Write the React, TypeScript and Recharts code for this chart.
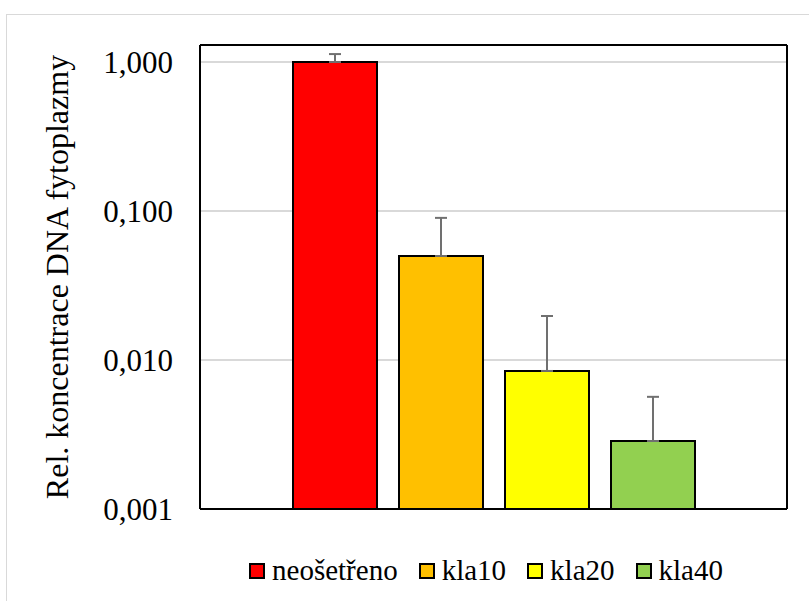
import { BarChart, Bar, XAxis, YAxis, CartesianGrid, ErrorBar, Legend } from "recharts";

const seriesNames = ["neošetřeno", "kla10", "kla20", "kla40"];
const seriesValues = [1.0, 0.0499, 0.00844, 0.00286];
const seriesErrors = [0.13, 0.04, 0.0113, 0.0028];
const seriesColors = ["#ff0000", "#ffc000", "#ffff00", "#92d050"];
const yTicks = [0.001, 0.01, 0.1, 1];

const row: Record<string, any> = { name: "" };
seriesNames.forEach((n, i) => {
  row[n] = seriesValues[i];
  row[n + "_err"] = [0, seriesErrors[i]];
});
const data = [row];

const font = "'Times New Roman', 'Liberation Serif', 'DejaVu Serif', serif";

const fmt = (v: number) => v.toFixed(3).replace(".", ",");

function LegendContent() {
  return (
    <div
      style={{
        display: "flex",
        justifyContent: "center",
        fontFamily: font,
        fontSize: 29,
        color: "#000",
        paddingLeft: 184,
        marginTop: -14,
      }}
    >
      {seriesNames.map((n, i) => (
        <span
          key={n}
          style={{ display: "inline-flex", alignItems: "center", marginRight: i < seriesNames.length - 1 ? 21 : 0 }}
        >
          <svg width={16} height={16} style={{ marginRight: 7 }}>
            <rect x={1} y={1} width={14} height={14} fill={seriesColors[i]} stroke="#000" strokeWidth={2} />
          </svg>
          {n}
        </span>
      ))}
    </div>
  );
}

export default function App() {
  return (
    <div
      style={{
        position: "absolute",
        left: 6,
        top: 14,
        width: 803,
        height: 587,
        border: "1px solid #d9d9d9",
        borderRight: "none",
        borderBottom: "none",
        boxSizing: "border-box",
        fontFamily: font,
      }}
    >
      <div style={{ position: "absolute", left: -7, top: -15 }}>
        <BarChart
          width={809}
          height={601}
          data={data}
          margin={{ top: 44, right: 21, bottom: 0, left: 0 }}
          barSize={84}
          barGap={22}
          style={{ fontFamily: font }}
        >
          <CartesianGrid vertical={false} stroke="#d9d9d9" strokeWidth={2} />
          <XAxis
            dataKey="name"
            tick={false}
            tickLine={false}
            height={59}
            axisLine={{ stroke: "#000", strokeWidth: 2 }}
          />
          <XAxis
            xAxisId="top"
            orientation="top"
            dataKey="name"
            tick={false}
            tickLine={false}
            height={1}
            axisLine={{ stroke: "#000", strokeWidth: 2 }}
          />
          <YAxis
            scale="log"
            domain={[0.001, 1.3]}
            ticks={yTicks}
            allowDataOverflow
            width={200}
            tickFormatter={fmt}
            tickLine={false}
            tickSize={0}
            tickMargin={27}
            axisLine={{ stroke: "#000", strokeWidth: 2 }}
            tick={{ fill: "#000", fontSize: 31, fontFamily: font }}
            label={{
              value: "Rel. koncentrace DNA fytoplazmy",
              angle: -90,
              position: "insideLeft",
              offset: 57,
              style: { textAnchor: "middle", fill: "#000", fontSize: 32, fontFamily: font },
            }}
          />
          <YAxis
            yAxisId="right"
            orientation="right"
            scale="log"
            domain={[0.001, 1.3]}
            width={1}
            tick={false}
            tickLine={false}
            axisLine={{ stroke: "#000", strokeWidth: 2 }}
          />
          <Legend verticalAlign="bottom" align="center" height={33} content={<LegendContent />} />
          {seriesNames.map((n, i) => (
            <Bar
              key={n}
              dataKey={n}
              fill={seriesColors[i]}
              stroke="#000"
              strokeWidth={2}
              isAnimationActive={false}
            >
              <ErrorBar
                dataKey={n + "_err"}
                direction="y"
                width={6}
                stroke="#707070"
                strokeWidth={2}
              />
            </Bar>
          ))}
        </BarChart>
      </div>
    </div>
  );
}
